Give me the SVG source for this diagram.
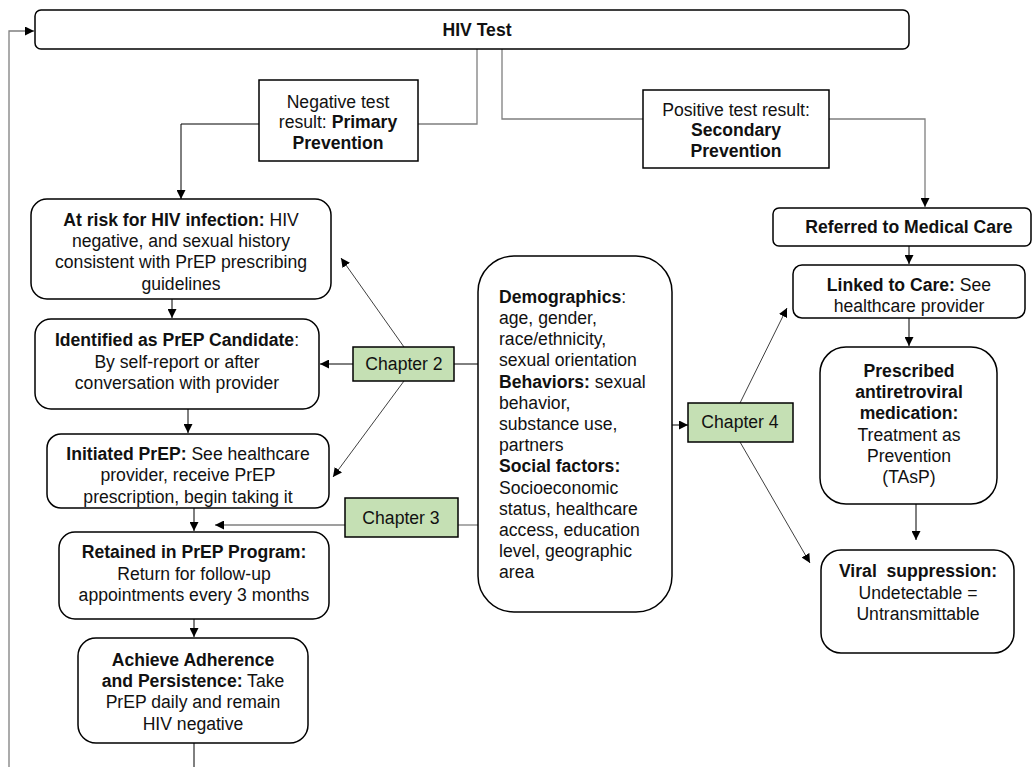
<svg xmlns="http://www.w3.org/2000/svg" width="1034" height="767" viewBox="0 0 1034 767">
<defs>
<marker id="ah" viewBox="0 0 10 10" refX="10" refY="5" markerWidth="9" markerHeight="9" markerUnits="userSpaceOnUse" orient="auto"><path d="M0,0 L10,5 L0,10 z" fill="#000"/></marker>
<style>
.box{fill:#fff;stroke:#000;stroke-width:1.5}
.ch{fill:#c5e0b4;stroke:#000;stroke-width:1.5}
.t{font-family:"Liberation Sans",Arial,sans-serif;font-size:17.6px;fill:#111}
.c{text-anchor:middle}
.b{font-weight:bold}
.k{fill:none;stroke:#000;stroke-width:1}
.g{fill:none;stroke:#7f7f7f;stroke-width:1.3}
.d{fill:none;stroke:#404040;stroke-width:1}
</style>
</defs>
<rect width="1034" height="767" fill="#fff"/>
<g id="connectors">
<path class="g" d="M9,767 V31 H34" marker-end="url(#ah)"/>
<path class="k" d="M194,743 V767"/>
<path class="g" d="M477,49 V124 H418"/>
<path class="k" d="M259,124 H181 V199" marker-end="url(#ah)"/>
<path class="g" d="M502,49 V119 H643"/>
<path class="g" d="M829,119 H925 V207" marker-end="url(#ah)"/>
<path class="k" d="M909,246 V264" marker-end="url(#ah)"/>
<path class="k" d="M909,318 V346" marker-end="url(#ah)"/>
<path class="k" d="M916,504 V540" marker-end="url(#ah)"/>
<path class="k" d="M172,299 V318" marker-end="url(#ah)"/>
<path class="k" d="M188,409 V433" marker-end="url(#ah)"/>
<path class="k" d="M194,508 V531" marker-end="url(#ah)"/>
<path class="k" d="M194,619 V637" marker-end="url(#ah)"/>
<path class="k" d="M353,364 H320" marker-end="url(#ah)"/>
<path class="d" d="M404,347 L341,258" marker-end="url(#ah)"/>
<path class="d" d="M404,381 L333,477" marker-end="url(#ah)"/>
<path class="k" d="M478,364 H454"/>
<path class="g" d="M478,525 H458"/>
<path class="g" d="M345,525 H215" marker-end="url(#ah)"/>
<path class="k" d="M672,425 H688" marker-end="url(#ah)"/>
<path class="d" d="M740,403 L787,308" marker-end="url(#ah)"/>
<path class="d" d="M740,442 L810,563" marker-end="url(#ah)"/>
</g>
<g id="hiv-test">
<rect class="box" x="35" y="10" width="874" height="39" rx="6"/>
<text class="t c b" x="477" y="36">HIV Test</text>
</g>
<g id="negative">
<rect class="box" x="259" y="80" width="159" height="81"/>
<text class="t c" x="338" y="108">Negative test</text>
<text class="t c" x="338" y="128">result: <tspan class="b">Primary</tspan></text>
<text class="t c b" x="338" y="149">Prevention</text>
</g>
<g id="positive">
<rect class="box" x="643" y="90" width="186" height="78"/>
<text class="t c" x="736" y="116">Positive test result:</text>
<text class="t c b" x="736" y="136">Secondary</text>
<text class="t c b" x="736" y="157">Prevention</text>
</g>
<g id="at-risk">
<rect class="box" x="31" y="199" width="300" height="100" rx="16"/>
<text class="t c" x="181" y="226"><tspan class="b">At risk for HIV infection:</tspan> HIV</text>
<text class="t c" x="181" y="247">negative, and sexual history</text>
<text class="t c" x="181" y="268">consistent with PrEP prescribing</text>
<text class="t c" x="181" y="290">guidelines</text>
</g>
<g id="identified">
<rect class="box" x="35" y="319" width="284" height="90" rx="16"/>
<text class="t c" x="177" y="346"><tspan class="b">Identified as PrEP Candidate</tspan>:</text>
<text class="t c" x="177" y="368">By self-report or after</text>
<text class="t c" x="177" y="389">conversation with provider</text>
</g>
<g id="initiated">
<rect class="box" x="47" y="434" width="282" height="74" rx="14"/>
<text class="t c" x="188" y="460"><tspan class="b">Initiated PrEP:</tspan> See healthcare</text>
<text class="t c" x="188" y="481">provider, receive PrEP</text>
<text class="t c" x="188" y="503">prescription, begin taking it</text>
</g>
<g id="retained">
<rect class="box" x="59" y="532" width="270" height="87" rx="16"/>
<text class="t c" x="194" y="558"><tspan class="b">Retained in PrEP Program:</tspan></text>
<text class="t c" x="194" y="580">Return for follow-up</text>
<text class="t c" x="194" y="601">appointments every 3 months</text>
</g>
<g id="achieve">
<rect class="box" x="78" y="638" width="230" height="105" rx="18"/>
<text class="t c b" x="193" y="666">Achieve Adherence</text>
<text class="t c" x="193" y="687"><tspan class="b">and Persistence:</tspan> Take</text>
<text class="t c" x="193" y="708">PrEP daily and remain</text>
<text class="t c" x="193" y="730">HIV negative</text>
</g>
<g id="chapter-2">
<rect class="ch" x="353" y="347" width="101" height="34"/>
<text class="t c" x="404" y="370">Chapter 2</text>
</g>
<g id="chapter-3">
<rect class="ch" x="345" y="498" width="113" height="39"/>
<text class="t c" x="401" y="524">Chapter 3</text>
</g>
<g id="chapter-4">
<rect class="ch" x="688" y="403" width="105" height="39"/>
<text class="t c" x="740" y="428">Chapter 4</text>
</g>
<g id="factors">
<rect class="box" x="478" y="256" width="194" height="356" rx="36"/>
<text class="t" x="499" y="303"><tspan class="b">Demographics</tspan>:</text>
<text class="t" x="499" y="324">age, gender,</text>
<text class="t" x="499" y="345">race/ethnicity,</text>
<text class="t" x="499" y="366">sexual orientation</text>
<text class="t" x="499" y="388"><tspan class="b">Behaviors:</tspan> sexual</text>
<text class="t" x="499" y="409">behavior,</text>
<text class="t" x="499" y="430">substance use,</text>
<text class="t" x="499" y="451">partners</text>
<text class="t b" x="499" y="472">Social factors:</text>
<text class="t" x="499" y="494">Socioeconomic</text>
<text class="t" x="499" y="515">status, healthcare</text>
<text class="t" x="499" y="536">access, education</text>
<text class="t" x="499" y="557">level, geographic</text>
<text class="t" x="499" y="578">area</text>
</g>
<g id="referred">
<rect class="box" x="773" y="208" width="258" height="38" rx="6"/>
<text class="t c b" x="909" y="233">Referred to Medical Care</text>
</g>
<g id="linked">
<rect class="box" x="793" y="265" width="232" height="53" rx="9"/>
<text class="t c" x="909" y="291"><tspan class="b">Linked to Care:</tspan> See</text>
<text class="t c" x="909" y="312">healthcare provider</text>
</g>
<g id="prescribed">
<rect class="box" x="820" y="347" width="177" height="157" rx="26"/>
<text class="t c b" x="909" y="377">Prescribed</text>
<text class="t c b" x="909" y="398">antiretroviral</text>
<text class="t c b" x="909" y="419">medication:</text>
<text class="t c" x="909" y="441">Treatment as</text>
<text class="t c" x="909" y="462">Prevention</text>
<text class="t c" x="909" y="483">(TAsP)</text>
</g>
<g id="viral">
<rect class="box" x="821" y="550" width="193" height="103" rx="20"/>
<text class="t c b" x="918" y="577" xml:space="preserve">Viral  suppression:</text>
<text class="t c" x="918" y="599">Undetectable =</text>
<text class="t c" x="918" y="620">Untransmittable</text>
</g>
</svg>
